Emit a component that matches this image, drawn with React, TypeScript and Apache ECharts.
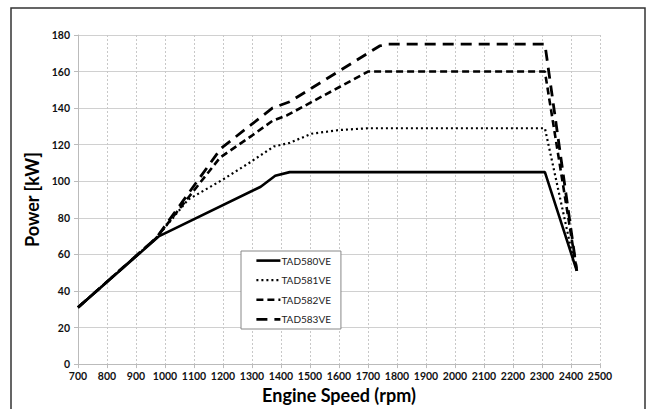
import React, { useEffect, useRef } from "react";
import * as echarts from "echarts";

const seriesNames = ["TAD580VE", "TAD581VE", "TAD582VE", "TAD583VE"];

const tad580: [number, number][] = [
  [700, 31], [980, 70], [1330, 97], [1380, 103], [1430, 105], [2310, 105], [2420, 51],
];
const tad581: [number, number][] = [
  [700, 31], [970, 69], [1080, 90], [1200, 101], [1290, 110], [1375, 119], [1430, 121],
  [1505, 126], [1600, 128], [1700, 129], [2310, 129], [2410, 56],
];
const tad582: [number, number][] = [
  [700, 31], [970, 69], [1080, 91], [1190, 113], [1300, 125], [1370, 133], [1420, 136],
  [1700, 160], [2310, 160], [2420, 51],
];
const tad583: [number, number][] = [
  [700, 31], [970, 69], [1193, 118], [1370, 140], [1430, 143.5], [1740, 174], [1770, 175],
  [2310, 175], [2420, 51],
];

const xTicks = { min: 700, max: 2500, interval: 100 };
const yTicks = { min: 0, max: 180, interval: 20 };

const FONT = "Lato, 'Open Sans', sans-serif";

export default function App() {
  const ref = useRef<HTMLDivElement>(null);
  useEffect(() => {
    if (!ref.current) return;
    const chart = echarts.init(ref.current, undefined, { renderer: "svg" });
    const styles = [
      { type: "solid" as any, width: 2.6 },
      { type: [2, 3] as any, width: 2.2 },
      { type: [7, 4] as any, width: 2.6 },
      { type: [11, 7] as any, width: 2.8 },
    ];
    const datas = [tad580, tad581, tad582, tad583];
    chart.setOption({
      animation: false,
      backgroundColor: "#fff",
      textStyle: { fontFamily: FONT },
      grid: { left: 78, right: 52, top: 35, bottom: 37 },
      graphic: [
        {
          type: "rect",
          shape: { x: 11, y: 8, width: 634, height: 430 },
          style: { fill: "none", stroke: "#333", lineWidth: 1.5 },
          silent: true,
        },
      ],
      legend: {
        orient: "vertical",
        left: 241,
        top: 251,
        padding: [4, 10, 4, 14],
        itemGap: 8.4,
        itemWidth: 24,
        itemHeight: 14,
        backgroundColor: "#fff",
        borderColor: "#888",
        borderWidth: 1,
        borderRadius: 0,
        data: seriesNames.map((name, i) => ({
          name,
          lineStyle: { width: styles[i].width, type: styles[i].type, color: "#000" },
        })),
        itemStyle: { color: "rgba(0,0,0,0)", borderColor: "rgba(0,0,0,0)", borderWidth: 0, opacity: 0 },
        textStyle: { fontSize: 10, color: "#222", fontFamily: FONT, padding: [0, 0, 0, -4] },
      },
      xAxis: {
        type: "value",
        min: xTicks.min,
        max: xTicks.max,
        interval: xTicks.interval,
        name: "Engine Speed (rpm)",
        nameLocation: "middle",
        nameGap: 16,
        nameTextStyle: { fontSize: 18, fontWeight: "bold", color: "#000", fontFamily: FONT },
        axisLine: { show: true, lineStyle: { color: "#bbb", width: 1 } },
        axisTick: { show: true, length: 4, lineStyle: { color: "#bbb" } },
        axisLabel: {
          fontSize: 10.5,
          fontWeight: "bold",
          color: "#111",
          margin: 6,
          fontFamily: FONT,
          formatter: (v: number) => String(v),
        },
        splitLine: { show: true, lineStyle: { color: "#c8c8c8", type: [2, 2], width: 1 } },
      },
      yAxis: {
        type: "value",
        min: yTicks.min,
        max: yTicks.max,
        interval: yTicks.interval,
        name: "Power [kW]",
        nameLocation: "middle",
        nameGap: 27,
        nameTextStyle: { fontSize: 18, fontWeight: "bold", color: "#000", fontFamily: FONT },
        axisLine: { show: true, lineStyle: { color: "#bbb", width: 1 } },
        axisTick: { show: true, length: 4, lineStyle: { color: "#bbb" } },
        axisLabel: {
          fontSize: 10.5,
          fontWeight: "bold",
          color: "#111",
          margin: 8,
          fontFamily: FONT,
          formatter: (v: number) => String(v),
        },
        splitLine: { show: true, lineStyle: { color: "#d0d0d0", width: 1 } },
      },
      series: seriesNames.map((name, i) => ({
        name,
        type: "line",
        data: datas[i],
        showSymbol: false,
        symbol: "none",
        color: "#000",
        lineStyle: { color: "#000", type: styles[i].type, width: styles[i].width },
        z: 10 - i,
      })),
    });
    return () => chart.dispose();
  }, []);
  return (
    <div
      ref={ref}
      style={{ position: "fixed", left: 0, top: 0, width: 652, height: 409 }}
    />
  );
}
